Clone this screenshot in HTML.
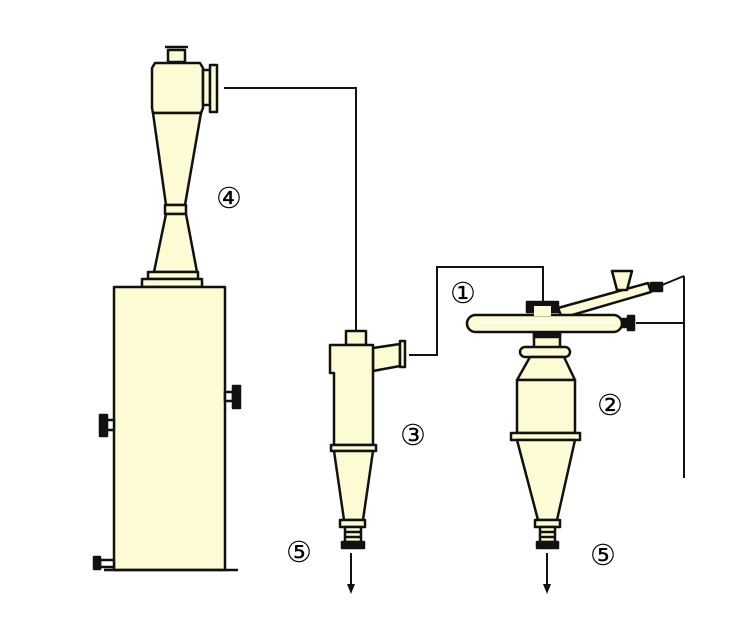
<!DOCTYPE html>
<html><head><meta charset="utf-8"><style>
html,body{margin:0;padding:0;background:#fff;}
svg{display:block;}
text{font-family:"DejaVu Sans","Liberation Serif",serif;font-size:29px;text-anchor:middle;dominant-baseline:central;}
</style></head><body>
<svg width="744" height="636" viewBox="0 0 744 636" xmlns="http://www.w3.org/2000/svg">
<g stroke="#111" stroke-width="2.5" fill="#fdfbd4" stroke-linejoin="round">
<rect x="168" y="50" width="17" height="12"/>
<line x1="165" y1="47" x2="188" y2="47"/>
<path d="M155 63 L200 63 L203 68 L203 108 L201 113 L153 113 L152 108 L152 68 Z"/>
<rect x="203" y="70" width="7" height="35"/>
<rect x="210" y="65" width="7" height="47"/>
<path d="M153 113 L201 113 L185 205 L166 205 Z"/>
<rect x="165" y="205" width="21" height="9"/>
<path d="M166 214 L186 214 L197 272 L154 272 Z"/>
<rect x="148" y="272" width="50" height="7"/>
<rect x="142" y="279" width="60" height="8"/>
<rect x="114" y="287" width="111" height="283"/>
<line x1="104" y1="570" x2="238" y2="570"/>
<rect x="225" y="392" width="8" height="9" fill="#fff"/>
<rect x="233" y="386" width="7" height="22" fill="#111"/>
<rect x="106" y="420" width="8" height="10" fill="#fff"/>
<rect x="100" y="415" width="7" height="21" fill="#111"/>
<rect x="100" y="560" width="14" height="7" fill="#fff"/>
<rect x="94" y="557" width="6" height="12" fill="#111"/>
</g>
<g stroke="#111" stroke-width="2" fill="none">
<polyline points="224,88 356,88 356,330"/>
<polyline points="409,355 437,355 437,267 543,267 543,302"/>
<line x1="636" y1="323" x2="684" y2="323"/>
<line x1="684" y1="276" x2="684" y2="478"/>
<line x1="662" y1="285" x2="684" y2="276"/>
<line x1="351" y1="553" x2="351" y2="590"/>
<line x1="547" y1="553" x2="547" y2="590"/>
</g>
<path d="M347 584 L351 594 L355 584 Z" fill="#111"/>
<path d="M543 584 L547 594 L551 584 Z" fill="#111"/>
<g stroke="#111" stroke-width="2.5" fill="#fdfbd4" stroke-linejoin="round">
<rect x="346" y="331" width="20" height="14"/>
<path d="M373 348 L400 344 L400 366 L373 371 Z"/>
<rect x="400" y="341" width="5" height="26"/>
<path d="M330 345 L373 345 L373 445 L334 445 L334 373 L330 373 Z"/>
<rect x="331" y="445" width="45" height="6"/>
<path d="M334 451 L373 451 L363 520 L344 520 Z"/>
<rect x="340" y="520" width="25" height="7"/>
<rect x="345" y="527" width="16" height="15"/>
<line x1="345" y1="532" x2="361" y2="532"/>
<line x1="345" y1="537" x2="361" y2="537"/>
<rect x="342" y="542" width="22" height="6" fill="#111"/>
<path d="M558 308 L648 283 L651 292 L562 318 Z"/>
<path d="M612 271 L632 271 L627 290 L617 290 Z"/>
<rect x="651" y="283" width="11" height="8" fill="#111"/>
<rect x="534" y="332" width="26" height="16" fill="#fdfbd4"/>
<rect x="534" y="332" width="26" height="5" fill="#111"/>
<rect x="520" y="347" width="50" height="10" rx="5"/>
<path d="M530 357 L564 357 L575 380 L517 380 Z"/>
<rect x="517" y="380" width="58" height="53"/>
<rect x="511" y="433" width="69" height="7"/>
<path d="M517 440 L575 440 L557 520 L538 520 Z"/>
<rect x="535" y="520" width="25" height="7"/>
<rect x="540" y="527" width="15" height="15"/>
<line x1="540" y1="532" x2="555" y2="532"/>
<line x1="540" y1="537" x2="555" y2="537"/>
<rect x="537" y="542" width="21" height="6" fill="#111"/>
<rect x="467" y="315" width="155" height="17" rx="8.5"/>
<line x1="475" y1="322" x2="615" y2="322" stroke="#fff" stroke-width="2"/>
<rect x="527" y="302" width="31" height="10" fill="#111"/>
<rect x="534" y="306" width="17" height="10" fill="#fdfbd4" stroke="none"/>
<rect x="622" y="319" width="8" height="8" fill="#111"/>
<rect x="628" y="316" width="6" height="14" fill="#111"/>
</g>
<text x="229" y="198">④</text>
<text x="463" y="293">①</text>
<text x="413" y="435">③</text>
<text x="610" y="405">②</text>
<text x="299" y="552">⑤</text>
<text x="603" y="555">⑤</text>
</svg>
</body></html>
